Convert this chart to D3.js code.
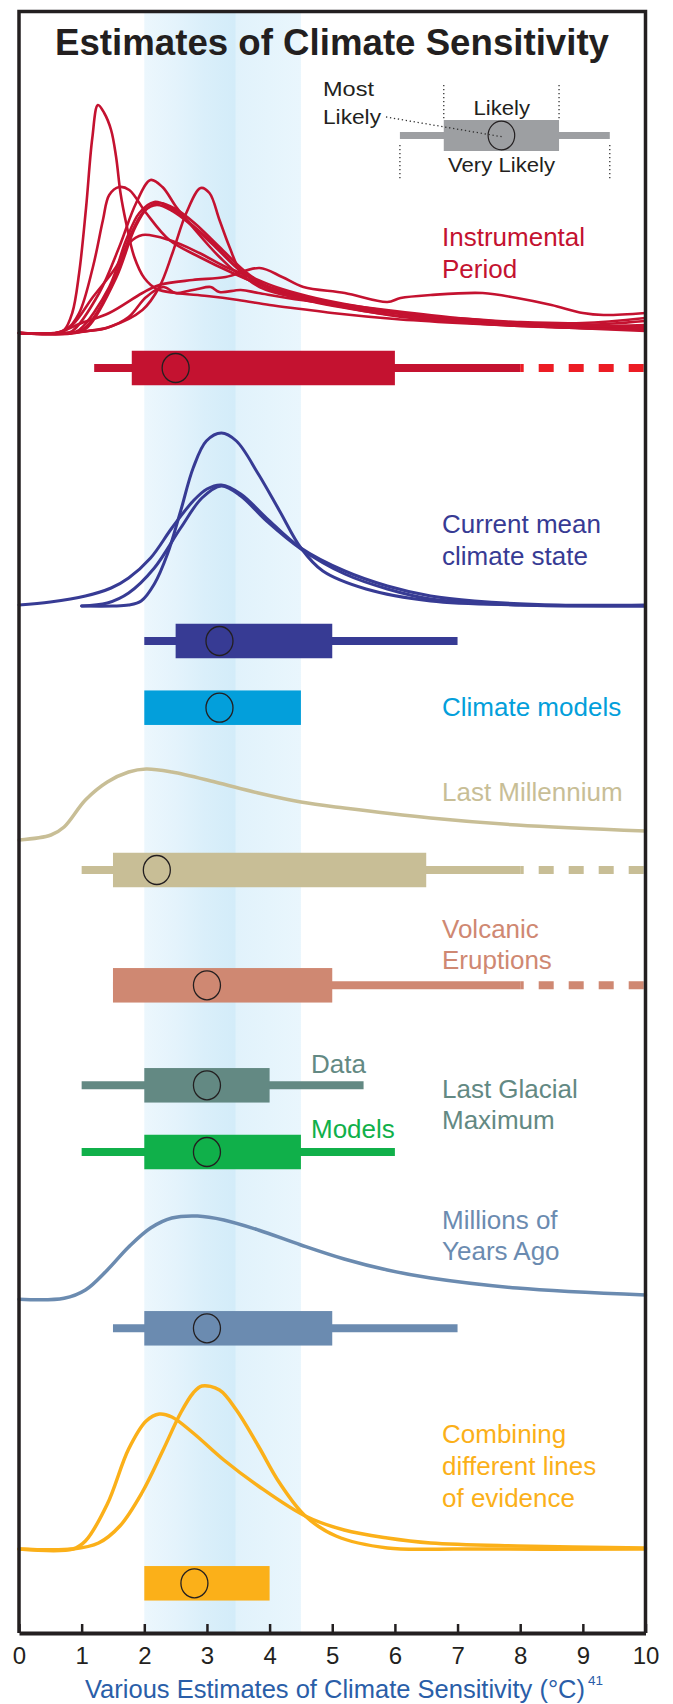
<!DOCTYPE html>
<html><head><meta charset="utf-8">
<script src="https://cdn.jsdelivr.net/npm/d3@7/dist/d3.min.js"></script>
<style>html,body{margin:0;padding:0;background:#fff;} svg{display:block;}</style>
</head><body>
<svg id="chart" width="673" height="1704"></svg>
<script>
// ---------------- DATA ----------------
const xTicks = [0,1,2,3,4,5,6,7,8,9,10];
const likelyBand = [2, 4.5];

// probability density curves: [sensitivity °C, relative density]
const instrumentalCurves = [
  [[0,0],[0.55,0],[0.72,0.03],[0.85,0.2],[0.96,0.6],[1.07,1.25],[1.17,1.95],[1.26,2.28],[1.36,2.2],[1.47,2.03],[1.55,1.76],[1.62,1.4],[1.71,1.1],[1.84,0.76],[2.0,0.55],[2.2,0.44],[2.5,0.4],[3.0,0.37],[3.5,0.33],[4.0,0.28],[4.5,0.24],[5,0.2],[6,0.14],[7,0.1],[8,0.07],[9,0.05],[10,0.04]],
  [[0,0],[0.6,0],[0.75,0.03],[0.96,0.2],[1.18,0.66],[1.34,1.13],[1.44,1.38],[1.6,1.46],[1.76,1.43],[2.03,1.2],[2.4,0.93],[2.88,0.76],[3.41,0.6],[3.95,0.46],[4.5,0.36],[5,0.3],[6,0.2],[7,0.13],[8,0.09],[9,0.06],[10,0.05]],
  [[0,0],[0.7,0],[0.85,0.02],[1.28,0.4],[1.6,0.86],[1.87,1.3],[2.1,1.53],[2.29,1.46],[2.51,1.26],[2.77,1.06],[3.2,0.76],[3.57,0.56],[4.1,0.43],[4.6,0.35],[5.2,0.27],[6,0.2],[7,0.14],[8,0.1],[9,0.07],[10,0.06]],
  [[0,0],[0.8,0],[0.96,0.03],[1.44,0.46],[1.71,0.93],[1.92,1.2],[2.16,1.31],[2.4,1.26],[2.67,1.13],[3.09,0.9],[3.52,0.63],[3.84,0.5],[4.3,0.4],[5,0.3],[6,0.2],[7,0.12],[8,0.08],[9,0.05],[10,0.04]],
  [[0,0],[0.85,0],[1.05,0.05],[1.5,0.5],[1.78,0.98],[2.0,1.22],[2.2,1.28],[2.45,1.22],[2.75,1.08],[3.15,0.85],[3.5,0.64],[3.9,0.47],[4.4,0.36],[5,0.28],[6,0.17],[7,0.11],[8,0.07],[9,0.05],[10,0.03]],
  [[0,0],[0.9,0],[1.1,0.06],[1.55,0.55],[1.85,1.05],[2.05,1.25],[2.25,1.3],[2.5,1.24],[2.8,1.1],[3.2,0.86],[3.6,0.62],[4.0,0.45],[4.5,0.34],[5.5,0.22],[6.5,0.14],[7.5,0.09],[8.5,0.06],[10,0.02]],
  [[0,0],[0.6,0],[0.85,0.08],[1.18,0.36],[1.55,0.66],[1.76,0.9],[1.97,0.98],[2.4,0.93],[2.88,0.8],[3.3,0.66],[3.63,0.58],[4.1,0.46],[4.6,0.37],[5.2,0.29],[6,0.21],[7,0.14],[8,0.1],[9,0.07],[10,0.08]],
  [[0,0],[0.8,0],[1.1,0.02],[1.44,0.06],[1.97,0.23],[2.24,0.46],[2.45,0.8],[2.67,1.2],[2.9,1.45],[3.04,1.4],[3.2,1.13],[3.36,0.86],[3.55,0.6],[3.84,0.46],[4.37,0.36],[5,0.3],[6,0.22],[7,0.15],[8,0.1],[9,0.08],[10,0.12]],
  [[0,0],[0.6,0],[1.0,0.1],[1.44,0.2],[1.97,0.4],[2.24,0.48],[2.77,0.53],[3.3,0.56],[3.84,0.65],[4.2,0.56],[4.54,0.46],[5.2,0.4],[5.88,0.31],[6.09,0.35],[6.57,0.38],[7.4,0.4],[7.95,0.35],[8.5,0.28],[9.0,0.2],[9.33,0.18],[10,0.2]],
  [[0,0],[0.8,0],[1.1,0.02],[1.4,0.05],[1.75,0.16],[2.03,0.36],[2.3,0.46],[2.5,0.4],[2.7,0.42],[2.85,0.44],[3.06,0.46],[3.2,0.41],[3.54,0.43],[3.82,0.4],[4.5,0.33],[5.2,0.28],[5.88,0.21],[6.1,0.2],[6.3,0.15],[6.57,0.16],[7.95,0.11],[9,0.1],[10,0.15]]
];
const currentMeanCurves = [
  [[1.0,0],[1.5,0],[1.75,0.01],[1.95,0.05],[2.16,0.22],[2.37,0.52],[2.58,0.95],[2.78,1.38],[2.99,1.65],[3.23,1.73],[3.47,1.65],[3.82,1.32],[4.16,0.95],[4.5,0.58],[4.85,0.35],[5.54,0.17],[6.57,0.05],[8,0.01],[10,0]],
  [[0,0.01],[0.5,0.04],[1.06,0.1],[1.47,0.18],[1.75,0.28],[2.1,0.48],[2.44,0.78],[2.78,1.05],[3.0,1.17],[3.23,1.21],[3.54,1.12],[3.95,0.88],[4.5,0.58],[5.2,0.35],[5.88,0.2],[6.57,0.1],[7.27,0.05],[8.6,0.01],[10,0.01]],
  [[1.0,0],[1.41,0.03],[1.75,0.13],[2.16,0.38],[2.58,0.78],[2.92,1.08],[3.23,1.2],[3.54,1.1],[3.95,0.85],[4.5,0.57],[5.2,0.32],[5.88,0.17],[6.57,0.07],[8,0.01],[10,0]]
];
const lastMillenniumCurve = [[0,0.02],[0.51,0.07],[0.72,0.15],[1.06,0.42],[1.41,0.6],[1.75,0.7],[2.03,0.73],[2.44,0.7],[3.13,0.6],[3.82,0.49],[4.5,0.4],[5.19,0.34],[6.57,0.24],[7.95,0.17],[10,0.11]];
const millionsCurve = [[0,0.007],[0.72,0.017],[1.06,0.1],[1.41,0.3],[1.75,0.53],[2.1,0.72],[2.44,0.82],[2.85,0.84],[3.27,0.8],[3.82,0.7],[4.5,0.55],[5.19,0.41],[5.88,0.3],[6.57,0.22],[7.95,0.12],[10,0.05]];
const combiningCurves = [
  [[0,0],[0.86,0],[1.27,0.06],[1.61,0.23],[1.96,0.56],[2.3,0.99],[2.58,1.36],[2.78,1.56],[2.92,1.63],[3.2,1.59],[3.47,1.39],[3.82,1.03],[4.16,0.66],[4.57,0.33],[5.06,0.13],[5.88,0.01],[7,0],[10,0]],
  [[0,0],[0.86,0],[1.06,0.08],[1.41,0.45],[1.75,1.0],[2.03,1.28],[2.24,1.35],[2.44,1.32],[2.78,1.16],[3.27,0.89],[3.82,0.63],[4.57,0.33],[5.19,0.19],[5.88,0.11],[6.57,0.06],[7.95,0.03],[10,0.01]]
];

// range estimates (°C)
const rowKeys      = ["instrumental","current","models","millennium","volcanic","lgmData","lgmModels","millions","combining"];
const veryLikelyLo = [1.2, 2.0, null, 1.0, 1.5, 1.0, 1.0, 1.5, null];
const veryLikelyHi = [8.0, 7.0, null, 8.0, 8.0, 5.5, 6.0, 7.0, null];
const dashedTo     = [10, null, null, 10, 10, null, null, null, null];
const likelyLo     = [1.8, 2.5, 2.0, 1.5, 1.5, 2.0, 2.0, 2.0, 2.0];
const likelyHi     = [6.0, 5.0, 4.5, 6.5, 5.0, 4.0, 4.5, 5.0, 4.0];
const mostLikely   = [2.5, 3.2, 3.2, 2.2, 3.0, 3.0, 3.0, 3.0, 2.8];

// legend schematic (°C positions)
const legendVeryLikely = [6.08, 9.43];
const legendLikely = [6.78, 8.62];
const legendMost = 7.7;

// text
const titleText = "Estimates of Climate Sensitivity";
const axisTitleText = "Various Estimates of Climate Sensitivity (°C)";
const axisTitleSup = "41";
const labelTexts = ["Instrumental","Period","Current mean","climate state","Climate models","Last Millennium","Volcanic","Eruptions","Data","Last Glacial","Maximum","Models","Millions of","Years Ago","Combining","different lines","of evidence"];
const labelKeys  = ["instrumental","instrumental","current","current","models","millennium","volcanic","volcanic","lgmData","lgmData","lgmData","lgmModels","millions","millions","combining","combining","combining"];

// ---------------- STYLE / LAYOUT ----------------
const colors = {
  instrumental:"#c41230", current:"#373b94", models:"#039fdb", millennium:"#c8be96",
  volcanic:"#cf8872", lgmData:"#638983", lgmModels:"#10b04a", millions:"#6b8bb0", combining:"#fbb019"
};
const dashColors = {instrumental:"#ec1c24", millennium:"#c8be96", volcanic:"#cf8872"};
const rowCenters = [368, 641, 707.7, 870, 985.3, 1085.3, 1152, 1328.3, 1583.3];
const labelPos = [[442,246],[442,277.7],[442,533.3],[442,564.5],[442,715.7],[442,801],[442,937.7],[442,969.3],[311,1073.3],[442,1097.7],[442,1129.3],[311,1138.3],[442,1229],[442,1260],[442,1443.3],[442,1475],[442,1506.7]];
const FONT = "'Liberation Sans', Arial, Helvetica, sans-serif";
const INK = "#231f20";

const svg = d3.select("#chart");
const W = 673, H = 1704;
const frameTop = 11.5, axisY = 1633;
const x = d3.scaleLinear().domain([0,10]).range([19, 645.5]);
const dens = d3.scaleLinear().domain([0,1]).range([0,100]);

svg.append("rect").attr("width",W).attr("height",H).attr("fill","#fff");

// likely band gradient
const defs = svg.append("defs");
const grad = defs.append("linearGradient").attr("id","band").attr("x1","0").attr("x2","1").attr("y1","0").attr("y2","0");
[[0,"#ecf7fd"],[0.2,"#e4f3fc"],[0.38,"#daeffa"],[0.58,"#d3ecf9"],[0.585,"#e1f2fb"],[1,"#e9f6fd"]].forEach(s=>grad.append("stop").attr("offset",s[0]).attr("stop-color",s[1]));
svg.append("rect").attr("x",x(likelyBand[0])).attr("y",frameTop).attr("width",x(likelyBand[1])-x(likelyBand[0])).attr("height",axisY-frameTop).attr("fill","url(#band)");

// curves
const line = base => d3.line().x(d=>x(d[0])).y(d=>base - dens(d[1])).curve(d3.curveCatmullRom.alpha(0.5));
function drawCurves(curves, base, color, width){
  svg.append("g").selectAll("path").data(curves).join("path")
    .attr("d", line(base)).attr("fill","none").attr("stroke",color)
    .attr("stroke-width",width).attr("stroke-linejoin","round").attr("stroke-linecap","round");
}
drawCurves(instrumentalCurves, 333, colors.instrumental, 2.6);
drawCurves(currentMeanCurves, 606, colors.current, 3);
drawCurves([lastMillenniumCurve], 842, colors.millennium, 3.5);
drawCurves([millionsCurve], 1300, colors.millions, 3.5);
drawCurves(combiningCurves, 1549, colors.combining, 3.5);

// range bars
const BOX_H = 34.5, WHISK = 8;
rowKeys.forEach((k,i)=>{
  const cy = rowCenters[i], g = svg.append("g");
  if (veryLikelyLo[i] != null) {
    g.append("line").attr("x1",x(veryLikelyLo[i])).attr("x2",x(veryLikelyHi[i])).attr("y1",cy).attr("y2",cy)
      .attr("stroke",colors[k]).attr("stroke-width",WHISK);
  }
  if (dashedTo[i] != null) {
    g.append("line").attr("x1",x(veryLikelyHi[i])).attr("x2",x(dashedTo[i])).attr("y1",cy).attr("y2",cy)
      .attr("stroke",dashColors[k]).attr("stroke-width",WHISK).attr("stroke-dasharray","15 15").attr("stroke-dashoffset",11.5);
  }
  g.append("rect").attr("x",x(likelyLo[i])).attr("y",cy-BOX_H/2).attr("width",x(likelyHi[i])-x(likelyLo[i])).attr("height",BOX_H).attr("fill",colors[k]);
  g.append("ellipse").attr("cx",x(mostLikely[i])).attr("cy",cy).attr("rx",13.5).attr("ry",14.5)
    .attr("fill","none").attr("stroke",INK).attr("stroke-width",1.3);
});

// legend schematic
const LY = 135.5, gray = "#9d9fa2";
const lg = svg.append("g");
lg.append("line").attr("x1",x(legendVeryLikely[0])).attr("x2",x(legendVeryLikely[1])).attr("y1",LY).attr("y2",LY).attr("stroke",gray).attr("stroke-width",7);
lg.append("rect").attr("x",x(legendLikely[0])).attr("y",LY-15.5).attr("width",x(legendLikely[1])-x(legendLikely[0])).attr("height",31).attr("fill",gray);
lg.append("ellipse").attr("cx",x(legendMost)).attr("cy",LY).attr("rx",13.3).attr("ry",14.3).attr("fill","none").attr("stroke",INK).attr("stroke-width",1.2);
const dot = {stroke:"#333","stroke-width":1.3,"stroke-dasharray":"1.3 2.7"};
function dotted(x1,y1,x2,y2){ const l = lg.append("line").attr("x1",x1).attr("y1",y1).attr("x2",x2).attr("y2",y2); Object.entries(dot).forEach(([a,v])=>l.attr(a,v)); }
dotted(x(legendLikely[0]),85,x(legendLikely[0]),120);
dotted(x(legendLikely[1]),85,x(legendLikely[1]),120);
dotted(x(legendVeryLikely[0]),145,x(legendVeryLikely[0]),179);
dotted(x(legendVeryLikely[1]),145,x(legendVeryLikely[1]),179);
dotted(386,117,x(legendMost)+2,137);
const ltext = (t,xx,yy,len)=>lg.append("text").attr("x",xx).attr("y",yy).attr("font-family",FONT).attr("font-size",21).attr("fill",INK).attr("textLength",len).attr("lengthAdjust","spacingAndGlyphs").text(t);
ltext("Most",323,96,51);
ltext("Likely",323,124.3,58);
ltext("Likely",473.5,115,56.5);
ltext("Very Likely",448,171.5,107);

// series labels
labelTexts.forEach((t,i)=>{
  svg.append("text").attr("x",labelPos[i][0]).attr("y",labelPos[i][1]).attr("font-family",FONT).attr("font-size",26)
    .attr("fill",colors[labelKeys[i]]).text(t);
});

// frame
svg.append("path").attr("d",`M${x(0)},${axisY}V${frameTop}H${x(10)}V${axisY}`).attr("fill","none").attr("stroke",INK).attr("stroke-width",3.5);

// axis
const axis = d3.axisBottom(x).tickValues(xTicks).tickFormat(d3.format("d")).tickSizeInner(-9).tickSizeOuter(0).tickPadding(14);
const ag = svg.append("g").attr("transform",`translate(0,${axisY})`).call(axis);
ag.select(".domain").attr("stroke",INK).attr("stroke-width",4);
ag.selectAll(".tick line").attr("stroke",INK).attr("stroke-width",2.5);
ag.selectAll(".tick text").attr("font-family",FONT).attr("font-size",24).attr("fill",INK);

// titles
svg.append("text").attr("x",55).attr("y",55).attr("font-family",FONT).attr("font-weight","bold").attr("font-size",36)
  .attr("fill",INK).attr("textLength",554).attr("lengthAdjust","spacingAndGlyphs").text(titleText);
svg.append("text").attr("x",85).attr("y",1698).attr("font-family",FONT).attr("font-size",25.5)
  .attr("fill","#2a5ea8").attr("textLength",500).attr("lengthAdjust","spacingAndGlyphs").text(axisTitleText);
svg.append("text").attr("x",588).attr("y",1684.5).attr("font-family",FONT).attr("font-size",13.5)
  .attr("fill","#2a5ea8").text(axisTitleSup);
</script>
</body></html>
